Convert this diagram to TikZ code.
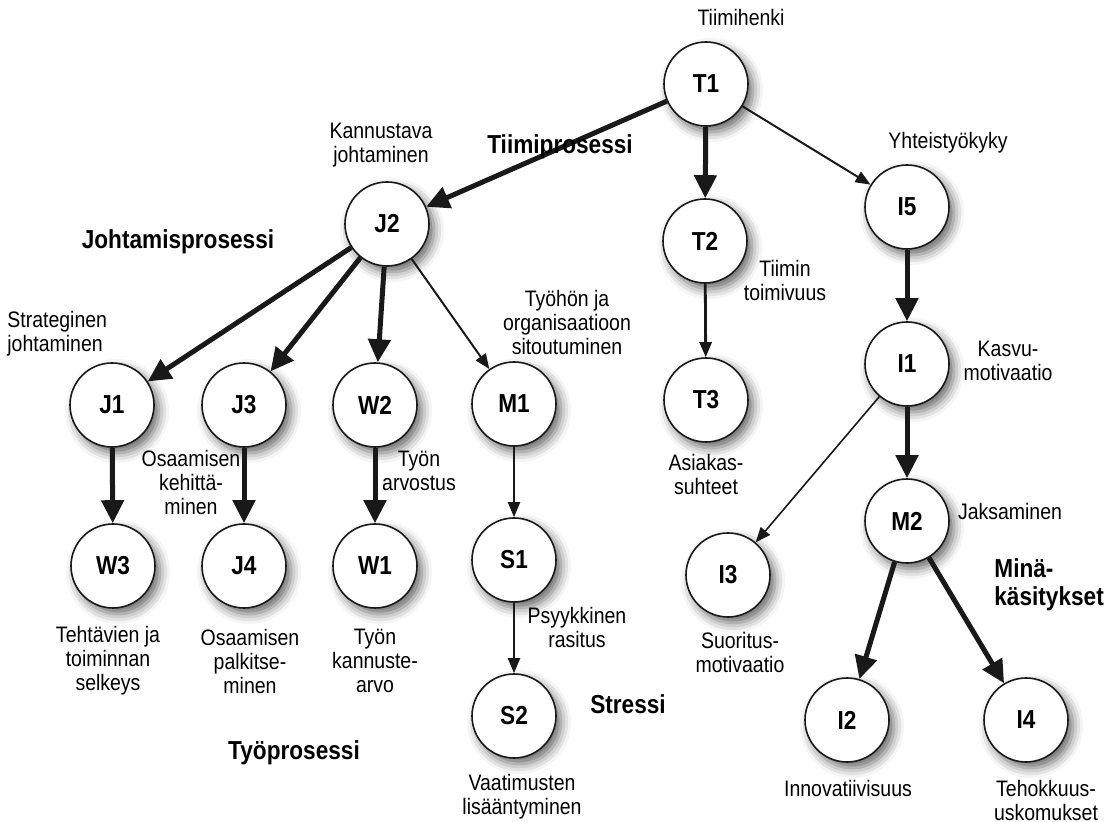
\documentclass[tikz,border=0pt]{standalone}
\usepackage{fontspec}
\setmainfont{Liberation Sans}[FakeStretch=0.87]
\usepackage{tikz}
\usetikzlibrary{
    arrows.meta,
    shadows.blur
}
\definecolor{inkblack}{RGB}{25, 25, 25}
\tikzstyle{factor} = [
    circle,
    draw=inkblack,
    line width=0.8pt,
    fill=white,
    minimum size=42pt,
    inner sep=0pt,
    font=\fontsize{13}{15}\selectfont\bfseries,
    blur shadow={shadow xshift=2.5pt, shadow yshift=-3pt, shadow blur radius=5pt, shadow opacity=60}
]
\tikzstyle{caption} = [
    align=center,
    inner sep=0pt,
    font=\fontsize{11.2}{12}\selectfont
]
\tikzstyle{process} = [
    align=left,
    inner sep=0pt,
    font=\fontsize{13}{14}\selectfont\bfseries
]
\tikzstyle{strong} = [
    draw=inkblack,
    -{Triangle[length=11.5pt, width=11pt]},
    line width=2.5pt
]
\tikzstyle{weak} = [
    draw=inkblack,
    -{Triangle[length=7.5pt, width=6pt]},
    line width=1pt
]

\begin{document}
\begin{tikzpicture}[x=0.5pt, y=-0.5pt]
    \useasboundingbox (0,0) rectangle (1118,822);

    % Tiimiprosessi
    \node[factor] (t1) at (706,84) {T1};
    \node[factor] (t2) at (705,241) {T2};
    \node[factor] (t3) at (706,400) {T3};

    % Johtamisprosessi
    \node[factor] (j2) at (387,224) {J2};
    \node[factor] (j1) at (112,405) {J1};
    \node[factor] (j3) at (244,405) {J3};
    \node[factor] (w2) at (375,405) {W2};
    \node[factor] (m1) at (514,404) {M1};

    % Tyoprosessi
    \node[factor] (w3) at (113,566) {W3};
    \node[factor] (j4) at (244,566) {J4};
    \node[factor] (w1) at (375,566) {W1};

    % Stressi
    \node[factor] (s1) at (514,560) {S1};
    \node[factor] (s2) at (514,716) {S2};

    % Minakasitykset
    \node[factor] (i5) at (907,207) {I5};
    \node[factor] (i1) at (907,364) {I1};
    \node[factor] (m2) at (907,521) {M2};
    \node[factor] (i3) at (728,575) {I3};
    \node[factor] (i2) at (847,720) {I2};
    \node[factor] (i4) at (1026,720) {I4};

    % Arrows
    \draw[strong] (t1) -- (j2);
    \draw[strong] (t1) -- (t2);
    \draw[weak] (t1) -- (i5);
    \draw[weak, line width=1.4pt] (t2) -- (t3);
    \draw[strong] (j2) -- (j1);
    \draw[strong] (j2) -- (j3);
    \draw[strong] (j2) -- (w2);
    \draw[weak] (j2) -- (m1);
    \draw[strong] (j1) -- (w3);
    \draw[strong] (j3) -- (j4);
    \draw[strong] (w2) -- (w1);
    \draw[weak] (m1) -- (s1);
    \draw[weak] (s1) -- (s2);
    \draw[strong] (i5) -- (i1);
    \draw[strong] (i1) -- (m2);
    \draw[weak, line width=0.8pt] (i1) -- (i3);
    \draw[strong] (m2) -- (i2);
    \draw[strong] (m2) -- (i4);

    % Factor captions
    \node[caption] (lt1) at (741,18) {Tiimihenki};
    \node[caption] (lj2) at (381,145) {Kannustava\\johtaminen};
    \node[caption] (li5) at (948,143) {Yhteistyökyky};
    \node[caption] (lt2) at (785,280) {Tiimin\\toimivuus};
    \node[caption] (lm1) at (567,322) {Työhön ja\\organisaatioon\\sitoutuminen};
    \node[caption, align=left, anchor=west] (lj1) at (7,334) {Strateginen\\johtaminen};
    \node[caption] (li1) at (1008,361) {Kasvu-\\motivaatio};
    \node[caption] (lj3) at (191,482) {Osaamisen\\kehittä-\\minen};
    \node[caption] (lw2) at (419,471) {Työn\\arvostus};
    \node[caption] (lt3) at (706,474) {Asiakas-\\suhteet};
    \node[caption] (lm2) at (1010,511) {Jaksaminen};
    \node[caption] (ls1) at (577,627) {Psyykkinen\\rasitus};
    \node[caption] (li3) at (740,652) {Suoritus-\\motivaatio};
    \node[caption] (lw3) at (108,661) {Tehtävien ja\\toiminnan\\selkeys};
    \node[caption] (lj4) at (250,661) {Osaamisen\\palkitse-\\minen};
    \node[caption] (lw1) at (375,661) {Työn\\kannuste-\\arvo};
    \node[caption] (ls2) at (522,797) {Vaatimusten\\lisääntyminen};
    \node[caption] (li2) at (848,788) {Innovatiivisuus};
    \node[caption] (li4) at (1046,800) {Tehokkuus-\\uskomukset};

    % Process titles
    \node[process] (tiimi) at (560,147) {Tiimiprosessi};
    \node[process] (johto) at (178,242) {Johtamisprosessi};
    \node[process] (tyo) at (294,753) {Työprosessi};
    \node[process] (stressi) at (628,704) {Stressi};
    \node[process, anchor=west] (mina) at (994,585) {Minä-\\käsitykset};

\end{tikzpicture}
\end{document}
